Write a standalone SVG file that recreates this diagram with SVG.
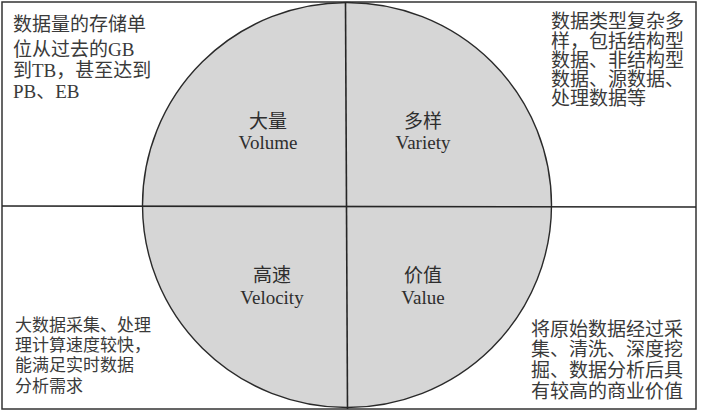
<svg xmlns="http://www.w3.org/2000/svg" width="703" height="412" viewBox="0 0 703 412">
<style>
.t{font-family:"Liberation Serif","Noto Sans CJK SC",serif;fill:#3a3a3a}
.d{font-size:19px}
.s{font-size:17px}
.c{font-family:"Liberation Serif","Noto Sans CJK SC",serif;fill:#2e2e2e;font-size:19px;text-anchor:middle}
.ln{stroke:#262626;stroke-width:1.6;fill:none}
</style>
<rect x="0" y="0" width="703" height="412" fill="#ffffff"/>
<rect x="2" y="2" width="694" height="407" fill="#ffffff" stroke="#333" stroke-width="1.5"/>
<ellipse id="circle" cx="347" cy="205" rx="204.5" ry="202.5" fill="#d6d6d6" stroke="#2a2a2a" stroke-width="1.4"/>
<g id="connectors">
<line class="ln" x1="2" y1="206" x2="696" y2="207"/>
<line class="ln" x1="345.5" y1="2" x2="347.5" y2="409"/>
</g>
<g id="volume">
<text class="c" x="268" y="128">大量</text>
<text class="c" x="268" y="149">Volume</text>
</g>
<g id="variety">
<text class="c" x="423" y="128">多样</text>
<text class="c" x="423" y="149">Variety</text>
</g>
<g id="velocity">
<text class="c" x="272" y="282">高速</text>
<text class="c" x="272" y="304">Velocity</text>
</g>
<g id="value">
<text class="c" x="423" y="282">价值</text>
<text class="c" x="423" y="304">Value</text>
</g>
<g id="desc-volume">
<text class="t d" x="13" y="31">数据量的存储单</text>
<text class="t d" x="13" y="56">位从过去的GB</text>
<text class="t d" x="13" y="77">到TB，甚至达到</text>
<text class="t d" x="13" y="98">PB、EB</text>
</g>
<g id="desc-variety">
<text class="t d" x="551" y="28">数据类型复杂多</text>
<text class="t d" x="551" y="47.5">样，包括结构型</text>
<text class="t d" x="551" y="67">数据、非结构型</text>
<text class="t d" x="551" y="86">数据、源数据、</text>
<text class="t d" x="551" y="105">处理数据等</text>
</g>
<g id="desc-velocity">
<text class="t s" x="15" y="331">大数据采集、处理</text>
<text class="t s" x="15" y="351">理计算速度较快，</text>
<text class="t s" x="15" y="371">能满足实时数据</text>
<text class="t s" x="15" y="392">分析需求</text>
</g>
<g id="desc-value">
<text class="t d" x="531" y="336">将原始数据经过采</text>
<text class="t d" x="531" y="356">集、清洗、深度挖</text>
<text class="t d" x="531" y="377">掘、数据分析后具</text>
<text class="t d" x="531" y="398">有较高的商业价值</text>
</g>
</svg>
